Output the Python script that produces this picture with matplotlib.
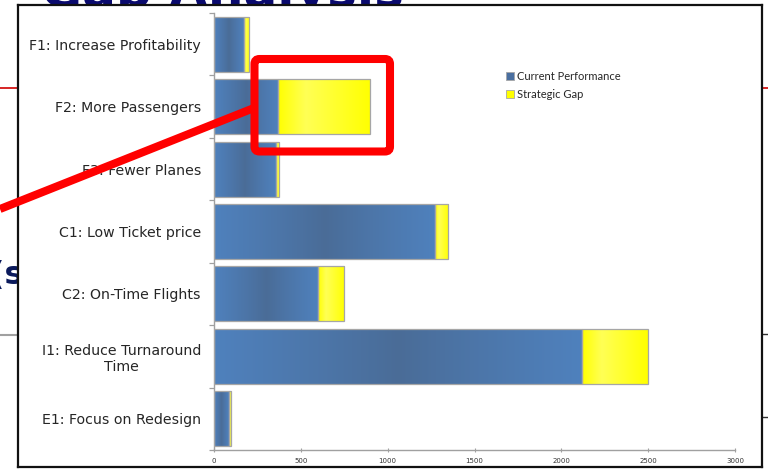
import numpy as np
import matplotlib
matplotlib.use("Agg")
import matplotlib.pyplot as plt
from matplotlib.patches import FancyBboxPatch, Rectangle
from matplotlib.colors import LinearSegmentedColormap

# ---- data -------------------------------------------------------------
categories = [
    "F1: Increase Profitability",
    "F2: More Passengers",
    "F3: Fewer Planes",
    "C1: Low Ticket price",
    "C2: On-Time Flights",
    "I1: Reduce Turnaround\nTime",
    "E1: Focus on Redesign",
]
current_performance = [170, 370, 355, 1275, 600, 2120, 85]
strategic_gap = [30, 530, 20, 75, 150, 380, 15]
x_ticks = [0, 500, 1000, 1500, 2000, 2500, 3000]
series_names = ["Current Performance", "Strategic Gap"]

# ---- canvas -----------------------------------------------------------
W, H = 768, 469
fig = plt.figure(figsize=(W / 100, H / 100), dpi=100)
fig.patch.set_facecolor("white")


def box(x0, y0, x1, y1):
    """Pixel box (origin top-left) -> figure-fraction rect."""
    return [x0 / W, 1 - y1 / H, (x1 - x0) / W, (y1 - y0) / H]


# slide behind the chart
bg = fig.add_axes([0, 0, 1, 1], zorder=0)
bg.set_xlim(0, W)
bg.set_ylim(H, 0)
bg.axis("off")
bg.plot([0, W], [88, 88], color="#D00000", lw=1.2)
bg.plot([0, 30], [335, 335], color="#A0A0A0", lw=1.5)
bg.plot([760, W], [334, 334], color="#303030", lw=1.0)
bg.plot([760, W], [417, 417], color="#303030", lw=1.0)
bg.text(24, 284, "K(s", fontsize=23, fontweight="bold", color="#0B1A5C",
        ha="right", va="baseline", family="DejaVu Sans")
bg.text(222, 7, "Gap Analysis", fontsize=36, fontweight="bold", color="#0A0A6E",
        ha="center", va="baseline", family="DejaVu Sans")

# white chart frame
frame = fig.add_axes(box(18, 5, 762, 467), zorder=1)
frame.set_facecolor("white")
frame.set_xticks([])
frame.set_yticks([])
for s in frame.spines.values():
    s.set_color("#111111")
    s.set_linewidth(1.6)

# ---- chart ------------------------------------------------------------
ax = fig.add_axes(box(214, 13, 735, 450), zorder=2)
ax.set_facecolor("none")
y = np.arange(len(categories))
bar_h = 0.88

blue_cmap = LinearSegmentedColormap.from_list("blu", ["#4A6C97", "#4F81BD"])
yel_cmap = LinearSegmentedColormap.from_list("yel", ["#FFFF00", "#FFFF55"])
t = np.linspace(0, 1, 256)
blue_grad = (np.abs(2 * t - 1) ** 0.9)[None, :]
yel_grad = np.where(t < 0.3, t / 0.3, (1 - t) / 0.7)[None, :]

cur_bars = ax.barh(y, current_performance, height=bar_h, color="none",
                   edgecolor="#A6A6A6", linewidth=0.9, zorder=3)
gap_bars = ax.barh(y, strategic_gap, left=current_performance, height=bar_h,
                   color="none", edgecolor="#A6A6A6", linewidth=0.9, zorder=3)

for bars, grad, cmap in ((cur_bars, blue_grad, blue_cmap),
                         (gap_bars, yel_grad, yel_cmap)):
    for b in bars:
        x0, y0 = b.get_x(), b.get_y()
        w, h = b.get_width(), b.get_height()
        im = ax.imshow(grad, extent=[x0, x0 + w, y0 + h, y0], aspect="auto",
                       cmap=cmap, vmin=0, vmax=1, interpolation="bilinear",
                       zorder=2)
        im.set_clip_path(b)

ax.set_xlim(0, 3000)
ax.set_ylim(len(categories) - 0.5, -0.5)
ax.set_xticks(x_ticks)
ax.set_xticklabels([str(v) for v in x_ticks])
ax.set_yticks(y)
ax.set_yticklabels(categories)
ax.set_yticks(np.arange(len(categories) + 1) - 0.5, minor=True)

ax.tick_params(axis="y", which="major", length=0, pad=9.4,
               labelsize=10.2, labelcolor="#262626")
ax.tick_params(axis="y", which="minor", length=3.5, width=0.9,
               color="#A0A0A0", direction="out")
ax.tick_params(axis="x", which="major", length=3, width=0.8,
               color="#A0A0A0", direction="inout", labelsize=5,
               labelcolor="#333333", pad=4)
for lab in ax.get_yticklabels():
    lab.set_multialignment("center")
    lab.set_family("DejaVu Sans")

for side in ("top", "right"):
    ax.spines[side].set_visible(False)
for side in ("left", "bottom"):
    ax.spines[side].set_color("#A0A0A0")
    ax.spines[side].set_linewidth(1.0)

handles = [Rectangle((0, 0), 1, 1, facecolor="#4A6FA0", edgecolor="#A6A6A6", lw=0.6),
           Rectangle((0, 0), 1, 1, facecolor="#FFFF00", edgecolor="#A6A6A6", lw=0.6)]
leg = fig.legend(handles, series_names, loc="upper left",
                 bbox_to_anchor=(506 / W, 1 - 71 / H), frameon=False,
                 borderpad=0, borderaxespad=0, handlelength=0.75,
                 handleheight=0.75, handletextpad=0.25, labelspacing=0.6,
                 prop={"family": "Lato", "size": 8})
for txt in leg.get_texts():
    txt.set_color("#262626")
leg.set_zorder(4)

# ---- red call-out over everything ----------------------------------
ov = fig.add_axes([0, 0, 1, 1], zorder=5)
ov.set_xlim(0, W)
ov.set_ylim(H, 0)
ov.axis("off")
ov.set_facecolor("none")
ov.plot([0, 254], [209, 108], color="#FF0000", lw=5.8, solid_capstyle="butt")
ov.add_patch(FancyBboxPatch((254.5, 59), 135.5, 92.5,
                            boxstyle="round,pad=0,rounding_size=5",
                            fill=False, edgecolor="#FF0000", linewidth=5.8))

fig.savefig("out.png", dpi=100, facecolor="white")
